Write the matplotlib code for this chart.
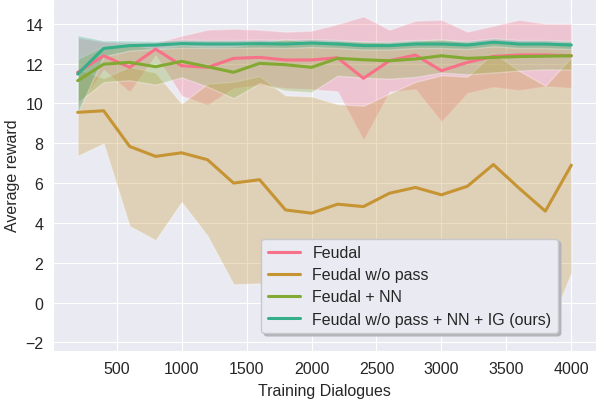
import matplotlib
matplotlib.use("Agg")
import matplotlib.pyplot as plt
import seaborn as sns
import numpy as np

sns.set_style("darkgrid")
plt.rcParams['font.family'] = ['Liberation Sans', 'DejaVu Sans']

# ---- data ----
dialogues = [200, 400, 600, 800, 1000, 1200, 1400, 1600, 1800, 2000,
             2200, 2400, 2600, 2800, 3000, 3200, 3400, 3600, 3800, 4000]

labels = ["Feudal", "Feudal w/o pass", "Feudal + NN", "Feudal w/o pass + NN + IG (ours)"]

feudal_mean = [11.56, 12.39, 11.81, 12.73, 11.89, 11.81, 12.26, 12.31, 12.18, 12.18,
               12.29, 11.26, 12.14, 12.43, 11.64, 12.06, 12.36, 12.43, 12.43, 12.39]
feudal_sd = [1.75, 0.71, 1.24, 0.32, 1.51, 1.89, 1.49, 1.39, 1.42, 1.47,
             1.69, 3.11, 1.56, 1.72, 2.56, 1.54, 1.54, 1.77, 1.57, 1.61]

nopass_mean = [9.55, 9.63, 7.84, 7.34, 7.52, 7.17, 6.00, 6.17, 4.65, 4.49,
               4.94, 4.82, 5.49, 5.78, 5.41, 5.84, 6.93, 5.73, 4.59, 6.90]
nopass_sd = [2.18, 1.64, 4.0, 4.2, 2.47, 3.82, 5.08, 5.2, 5.75, 5.86,
             5.02, 5.06, 5.0, 5.3, 6.0, 5.5, 5.6, 5.9, 6.3, 5.4]

nn_mean = [11.14, 11.97, 12.06, 11.84, 12.11, 11.84, 11.56, 12.01, 11.94, 11.81,
           12.26, 12.19, 12.14, 12.23, 12.39, 12.26, 12.31, 12.35, 12.37, 12.39]
nn_sd = [1.1, 0.9, 0.9, 0.9, 0.8, 1.0, 1.3, 1.0, 1.3, 1.25,
         0.87, 0.9, 0.9, 0.9, 0.84, 0.8, 0.76, 0.7, 0.66, 0.7]

ours_mean = [11.47, 12.76, 12.90, 12.93, 13.00, 12.98, 12.98, 13.00, 12.98, 13.03,
             12.98, 12.90, 12.90, 12.98, 12.98, 12.93, 13.07, 12.98, 12.98, 12.93]
ours_sd = [1.95, 0.4, 0.25, 0.2, 0.2, 0.2, 0.2, 0.2, 0.2, 0.2,
           0.2, 0.2, 0.2, 0.2, 0.2, 0.2, 0.2, 0.2, 0.2, 0.2]

means = [feudal_mean, nopass_mean, nn_mean, ours_mean]
sds = [feudal_sd, nopass_sd, nn_sd, ours_sd]

colors = sns.color_palette("husl", 7)[:4]

fig = plt.figure(figsize=(5.96, 4.02), dpi=100)
ax = fig.add_axes([53 / 596, 50 / 402, 543 / 596, 352 / 402])

x = np.array(dialogues)
for lab, m, s, c in zip(labels, means, sds, colors):
    m = np.array(m)
    s = np.array(s)
    ax.fill_between(x, m - s, m + s, facecolor=c, edgecolor='white',
                    linewidth=1.0, alpha=0.3)
    ax.plot(x, m, color=c, lw=2.2, label=lab)

ax.set_xlim(10, 4190)
ax.set_ylim(-2.43, 15.24)
ax.set_xticks([500, 1000, 1500, 2000, 2500, 3000, 3500, 4000])
ax.set_yticks([-2, 0, 2, 4, 6, 8, 10, 12, 14])
ax.tick_params(labelsize=11.5, colors='#262626')
ax.set_xlabel("Training Dialogues", fontsize=11.5, color='#262626', labelpad=5)
ax.set_ylabel("Average reward", fontsize=11.5, color='#262626')

leg = ax.legend(loc='lower right', bbox_to_anchor=(0.93, 0.051),
                borderaxespad=0, frameon=True,
                shadow={'color': '#b4b4b8', 'alpha': 1.0}, fancybox=True,
                fontsize=11.5, labelspacing=0.45, facecolor='#EAEAF2',
                edgecolor='#c8c8cc', framealpha=1.0)
for t in leg.get_texts():
    t.set_color('#262626')

fig.savefig("out.png", dpi=100)
